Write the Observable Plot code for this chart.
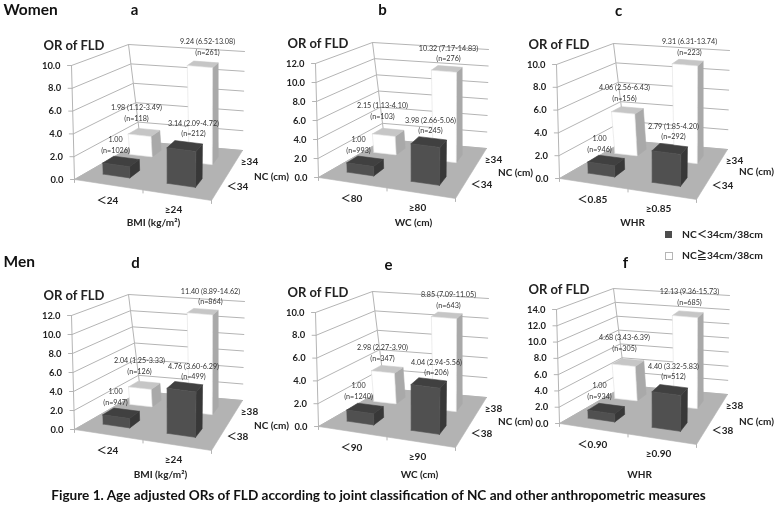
<!DOCTYPE html>
<html><head><meta charset="utf-8">
<script src="https://cdn.jsdelivr.net/npm/d3@7"></script>
<script src="https://cdn.jsdelivr.net/npm/@observablehq/plot@0.6"></script>
<style>
html,body{margin:0;padding:0;background:#fff;width:777px;height:505px;overflow:hidden;position:relative}
#chart,#cap,.leg,.sw{filter:blur(.3px)}
#cap{position:absolute;left:0;top:487px;width:757px;text-align:center;font:700 13.6px/16px Lato,sans-serif;color:#111;white-space:nowrap}
.leg{position:absolute;left:682px;font:700 10.3px/14px Lato,"Noto Sans CJK SC",sans-serif;color:#222;white-space:nowrap}
.sw{position:absolute;left:665px;width:7px;height:7px}
</style></head><body>
<div id="chart"></div>
<div class="sw" style="top:231px;background:#4d4d4d"></div><div class="leg" style="top:227px">NC＜34cm/38cm</div>
<div class="sw" style="top:252px;background:#fff;border:1px solid #b5b5b5;width:6px;height:6px"></div><div class="leg" style="top:248px">NC≧34cm/38cm</div>
<div id="cap">Figure 1. Age adjusted ORs of FLD according to joint classification of NC and other anthropometric measures</div>
<script>
// ---- data
const panels   = ["a","b","c","d","e","f"];
const yMax     = [10,12,10,12,10,14];
const xCatLow  = ["＜24","＜80","＜0.85","＜24","＜90","＜0.90"];
const xCatHigh = ["≥24","≥80","≥0.85","≥24","≥90","≥0.90"];
const xTitles  = ["BMI (kg/m²)","WC (cm)","WHR","BMI (kg/m²)","WC (cm)","WHR"];
const ncLow    = ["＜34","＜34","＜34","＜38","＜38","＜38"];
const ncHigh   = ["≥34","≥34","≥34","≥38","≥38","≥38"];
const orLowLow   = [1.00,1.00,1.00,1.00,1.00,1.00];
const orLowHigh  = [1.98,2.15,4.06,2.04,2.98,4.68];
const orHighLow  = [3.14,3.98,2.79,4.76,4.04,4.40];
const orHighHigh = [9.24,10.32,9.31,11.40,8.85,12.13];
const ciLowHigh  = ["1.12-3.49","1.13-4.10","2.56-6.43","1.25-3.33","2.27-3.90","3.43-6.39"];
const ciHighLow  = ["2.09-4.72","2.66-5.06","1.85-4.20","3.60-6.29","2.94-5.56","3.32-5.83"];
const ciHighHigh = ["6.52-13.08","7.17-14.83","6.31-13.74","8.89-14.62","7.09-11.05","9.36-15.73"];
const nLowLow    = [1026,993,946,947,1240,934];
const nLowHigh   = [118,103,156,126,347,305];
const nHighLow   = [212,245,292,499,206,512];
const nHighHigh  = [261,276,223,864,643,685];

// ---- 3-D view: where each panel's box sits, and its shape
const originX = [74,318,559,74,318,559];
const originY = [179,177,178,429,426,423];
const titleDX = [79,95,73,86,101,80];
const titleDY = [43,45,44,45,48,51];
const ncDY    = [-3,-5,-7,-4,-5,-2];
const box = {
  fl:[0,0],   fr:[137,21],  bl:[66,-38],  br:[168,-29],
  flT:[-3,-114], frT:[140,-98], blT:[54,-135], brT:[170,-128]
};
const mix=(a,b,t)=>[a[0]+(b[0]-a[0])*t,a[1]+(b[1]-a[1])*t];
function project(p,u,v,value){
  const w=value/yMax[p];
  const lo=mix(mix(box.fl,box.fr,u),mix(box.bl,box.br,u),v);
  const hi=mix(mix(box.flT,box.frT,u),mix(box.blT,box.brT,u),v);
  const q=mix(lo,hi,w);
  return [originX[p]+q[0],originY[p]+q[1]];
}
// bar footprints in the box, keyed by x category + NC category
const footprint={
  "00":{u:[.119,.324],v:[.20,.38]},
  "01":{u:[.087,.285],v:[.69,.85]},
  "10":{u:[.611,.829],v:[.20,.38]},
  "11":{u:[.62,.824],v:[.67,.83]}
};
const darkFaces={front:"#505050",side:"#383838",top:"#404040"};
const lightFaces={front:"#ffffff",side:"#a9a9a9",top:"#c6c6c6"};
// label placement: x from the panel origin, y from the bar top
const labelDX={"00":[41,40,40,41,40,40],"01":[62,64,65,65,64,65],"10":[119,112,114,119,118,114],"11":[133,130,130,136,130,130]};
const labelDY={"00":[-11,-11,-11,-11,-12,-12],"01":[-14,-16,-12,-14,-11,-14],"10":[-12,-11,-12,-10,-10,-13],"11":[-12,-10,-10,-10,-10,-12]};

const polys=[],grid=[],labelsSmall=[],ticksTxt=[],catTxt=[],heads=[];
let id=0;
function poly(p,pts,fill,stroke){
  const k=id++;
  [...pts,pts[0]].forEach(q=>{const [x,y]=project(p,...q);polys.push({x,y,k,fill,stroke:stroke||fill});});
}
function bar(p,i,j,val,line1,line2){
  const key=""+i+j;
  const {u:[u0,u1],v:[v0,v1]}=footprint[key];
  const c=j?lightFaces:darkFaces;
  poly(p,[[u1,v0,0],[u1,v1,0],[u1,v1,val],[u1,v0,val]],c.side);
  poly(p,[[u0,v0,val],[u1,v0,val],[u1,v1,val],[u0,v1,val]],c.top);
  poly(p,[[u0,v0,0],[u1,v0,0],[u1,v0,val],[u0,v0,val]],c.front,j?"#e0e0e0":c.front);
  const [,ty]=project(p,(u0+u1)/2,(v0+v1)/2,val);
  const lx=originX[p]+labelDX[key][p], ly=ty+labelDY[key][p];
  labelsSmall.push({x:lx,y:ly-10.4,t:line1},{x:lx,y:ly,t:line2});
}
panels.forEach((name,p)=>{
  let g=0;
  for(const t of d3.range(0,yMax[p]+.01,2)){
    const k="g"+p+"_"+(g++);
    [[0,0,t],[0,1,t],[1,1,t]].forEach(q=>{const [x,y]=project(p,...q);grid.push({x,y,k});});
    const [ax,ay]=project(p,0,0,t);
    grid.push({x:ax-4,y:ay,k:"t"+k},{x:ax,y:ay,k:"t"+k});
    ticksTxt.push({x:ax-11,y:ay,t:t.toFixed(1)});
  }
  [[0,0],[0,1]].forEach(([u,v])=>{
    const k="g"+p+"_"+(g++);
    [[u,v,0],[u,v,yMax[p]]].forEach(q=>{const [x,y]=project(p,...q);grid.push({x,y,k});});
  });
  poly(p,[[0,0,0],[1,0,0],[1,1,0],[0,1,0]],"#b3b3b3");
  [0,.5,1].forEach(u=>{const [x,y]=project(p,u,0,0);const k="f"+p+u;grid.push({x,y,k},{x,y:y+3,k});});
  bar(p,0,1,orLowHigh[p],`${orLowHigh[p].toFixed(2)} (${ciLowHigh[p]})`,`(n=${nLowHigh[p]})`);
  bar(p,1,1,orHighHigh[p],`${orHighHigh[p].toFixed(2)} (${ciHighHigh[p]})`,`(n=${nHighHigh[p]})`);
  bar(p,0,0,orLowLow[p],orLowLow[p].toFixed(2),`(n=${nLowLow[p]})`);
  bar(p,1,0,orHighLow[p],`${orHighLow[p].toFixed(2)} (${ciHighLow[p]})`,`(n=${nHighLow[p]})`);
  const ox=originX[p],oy=originY[p];
  catTxt.push({x:ox+33,y:oy+21,t:xCatLow[p]},{x:ox+99,y:oy+30,t:xCatHigh[p]},
    {x:ox+titleDX[p],y:oy+titleDY[p],t:xTitles[p]},
    {x:ox+175,y:oy-18,t:ncHigh[p]},{x:ox+163,y:oy+7,t:ncLow[p]},
    {x:ox+197,y:oy+ncDY[p],t:"NC (cm)"});
  heads.push({x:ox-31,y:oy-134,t:"OR of FLD"});
});
const letters=[{x:134,y:10,t:"a"},{x:382,y:10,t:"b"},{x:618,y:11,t:"c"},{x:135,y:263,t:"d"},{x:388,y:265,t:"e"},{x:625,y:263,t:"f"}];
const sexes=[{x:3,y:10,t:"Women"},{x:3,y:262,t:"Men"}];

const plot=Plot.plot({
  width:777,height:484,margin:0,
  x:{type:"linear",domain:[0,777],range:[0,777],axis:null},
  y:{type:"linear",domain:[0,484],range:[0,484],axis:null},
  color:{type:"identity"},
  marks:[
    Plot.line(grid,{x:"x",y:"y",z:"k",stroke:"#b4b4b4",strokeWidth:1}),
    Plot.line(polys,{x:"x",y:"y",z:"k",fill:"fill",stroke:"stroke",strokeWidth:.6}),
    Plot.text(labelsSmall,{x:"x",y:"y",text:"t",fontSize:7.2,fill:"#333",fontFamily:"Lato,sans-serif"}),
    Plot.text(ticksTxt,{x:"x",y:"y",text:"t",textAnchor:"end",fontSize:9.4,fontWeight:700,fill:"#222",fontFamily:"Lato,sans-serif"}),
    Plot.text(catTxt,{x:"x",y:"y",text:"t",fontSize:10,fontWeight:700,fill:"#222",fontFamily:'Lato,"Noto Sans CJK SC",sans-serif'}),
    Plot.text(heads,{x:"x",y:"y",text:"t",textAnchor:"start",fontSize:13,fontWeight:700,fill:"#222",fontFamily:"Lato,sans-serif"}),
    Plot.text(letters,{x:"x",y:"y",text:"t",fontSize:15,fontWeight:700,fill:"#111",fontFamily:"Lato,sans-serif"}),
    Plot.text(sexes,{x:"x",y:"y",text:"t",textAnchor:"start",fontSize:15.5,fontWeight:700,fill:"#111",fontFamily:"Lato,sans-serif"})
  ]
});
document.getElementById("chart").appendChild(plot);
</script>
</body></html>
